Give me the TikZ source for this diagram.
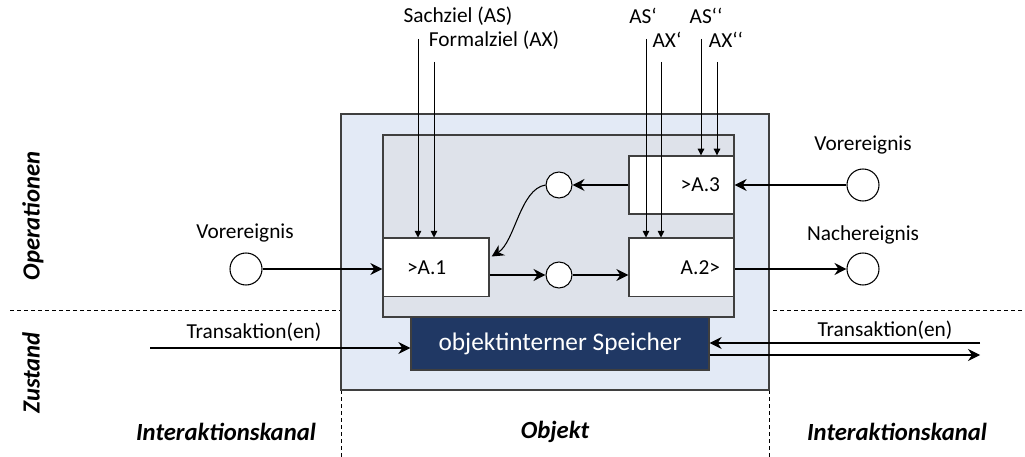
\documentclass[tikz,border=0pt]{standalone}
\usepackage{fontspec}
\setmainfont{Carlito}
\usetikzlibrary{arrows.meta, positioning, calc}
\definecolor{objblau}{HTML}{E3EAF6}
\definecolor{opgrau}{HTML}{DEE2EA}
\definecolor{speicherblau}{HTML}{203864}
\definecolor{rand}{HTML}{3F3F3F}

\begin{document}
\begin{tikzpicture}[
    x=0.75pt, y=0.75pt,
    font=\fontsize{16}{19}\selectfont,
    objekt/.style={rectangle, draw=rand, fill=objblau, line width=1pt, inner sep=0pt},
    opbereich/.style={rectangle, draw=rand, fill=opgrau, line width=1pt, inner sep=0pt},
    aufgabe/.style={rectangle, draw=rand, fill=white, line width=1pt, minimum height=44pt},
    ereignis/.style={circle, draw, fill=white, line width=0.8pt, minimum size=24pt, inner sep=0pt},
    zwischen/.style={ereignis, minimum size=19.5pt},
    speicher/.style={rectangle, draw=rand, fill=speicherblau, text=white, line width=1pt, minimum width=223.5pt, minimum height=39.75pt, font=\fontsize{19}{23}\selectfont},
    ebene/.style={font=\fontsize{18.5}{22}\selectfont\bfseries\itshape},
    arrow/.style={-{Stealth[length=9pt, width=9pt, inset=3pt]}, line width=0.8pt},
    ziel/.style={-{Triangle[length=5pt, width=5pt]}, line width=0.7pt},
    trenner/.style={dash pattern=on 3pt off 2.25pt, line width=0.75pt}
]
\useasboundingbox (0,0) rectangle (1025,457);

% Trennlinien
\draw[trenner] (10,146) -- (1025,146);
\draw[trenner] (341,0) -- (341,146);
\draw[trenner] (769,0) -- (769,146);

% Objekt
\node[objekt, minimum width=321pt, minimum height=207pt] (obj) at (555,205) {};
\node[opbereich, minimum width=263.25pt, minimum height=136.5pt] (opbox) at (558.5,231) {};

\node[aufgabe, text width=43.5pt, inner xsep=18pt, align=left] (a1) at (436,189.5) {>A.1};
\node[aufgabe, text width=57.75pt, inner xsep=10.5pt, align=right] (a2) at (681.5,189.5) {A.2>};
\node[aufgabe, text width=57.75pt, inner xsep=10.5pt, align=right, minimum height=43.5pt] (a3) at (681.5,272) {>A.3};
\node[speicher] (sp) at (560,113.5) {objektinterner Speicher};

\node[zwischen] (e1) at (559,272) {};
\node[zwischen] (e2) at (559,182) {};

% Ereignisse
\node[ereignis] (vorL) at (246,188) {};
\node[ereignis] (vorR) at (863,272) {};
\node[ereignis] (nach) at (863,188) {};
\node (vorLtext) at (245,224) {Vorereignis};
\node (vorRtext) at (863,312) {Vorereignis};
\node (nachtext) at (863,222) {Nachereignis};

% Ziele
\node (sachziel)   at (458,441) {Sachziel (AS)};
\node (formalziel) at (494,417) {Formalziel (AX)};
\node (as1) at (643,441) {AS‘};
\node (as2) at (706,441) {AS‘‘};
\node (ax1) at (667,417) {AX‘};
\node (ax2) at (726,417) {AX‘‘};

\coordinate (asStart)  at (418,418);
\coordinate (axStart)  at (434,395);
\coordinate (as1Start) at (646,418);
\coordinate (ax1Start) at (661,395);
\coordinate (as2Start) at (701,418);
\coordinate (ax2Start) at (717,395);

% Transaktionen
\node (transL) at (254,125) {Transaktion(en)};
\node (transR) at (885,127) {Transaktion(en)};
\coordinate (tlIn)  at (150,109);
\coordinate (trIn)  at (980,114);
\coordinate (trOut) at (980,102);

% Ebenen
\node[ebene, rotate=90] (opsLabel) at (33,241) {Operationen};
\node[ebene, rotate=90] (zustLabel) at (31,84) {Zustand};
\node[ebene] (ikL) at (226,25) {Interaktionskanal};
\node[ebene] (objLabel) at (555,25) {Objekt};
\node[ebene] (ikR) at (897,25) {Interaktionskanal};

% Edges
\draw[arrow] (vorL) -- (a1.west |- vorL);
\draw[arrow] (vorR) -- (a3.east |- vorR);
\draw[arrow] (a2.east |- nach) -- (nach);
\draw[arrow] (a3.west |- e1) -- (e1);
\draw[arrow] (a1.east |- e2) -- (e2);
\draw[arrow] (e2) -- (a2.west |- e2);
\draw[arrow] (e1.west) .. controls (520,268) and (515,215) .. ($(a1.north east)+(2,-19)$);

\draw[arrow] (tlIn) -- (sp.west |- tlIn);
\draw[arrow] (trIn) -- (sp.east |- trIn);
\draw[arrow] (sp.east |- trOut) -- (trOut);

\draw[ziel] (asStart)  -- (asStart |- a1.north);
\draw[ziel] (axStart)  -- (axStart |- a1.north);
\draw[ziel] (as1Start) -- (as1Start |- a2.north);
\draw[ziel] (ax1Start) -- (ax1Start |- a2.north);
\draw[ziel] (as2Start) -- (as2Start |- a3.north);
\draw[ziel] (ax2Start) -- (ax2Start |- a3.north);

\end{tikzpicture}
\end{document}
